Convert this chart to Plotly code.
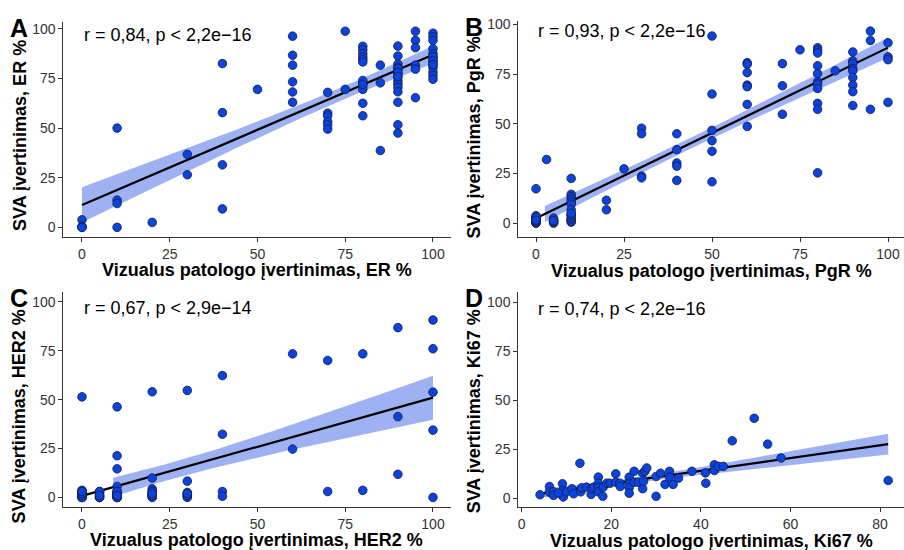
import numpy as np
import plotly.graph_objects as go

W, H = 904, 550

# ---------------- data ----------------
# Panel A: ER (columns at 80-100 contain overlapping cases)
er_x = ([0] * 4 + [10] * 4 + [20] + [30] * 2 + [40] * 4 + [50] + [60] * 6 + [70] * 6 + [75] * 2
        + [80] * 13 + [85] * 3 + [90] * 17 + [95] * 6 + [100] * 15)
er_y = [3.8, 0.5, 0, 0,
        13.7, 12, 0, 50,
        2.5,
        36.8, 26.5,
        82.5, 57.8, 31.5, 9.3,
        69.5,
        96.3, 86.7, 81.7, 73.3, 68.2, 63,
        68, 57.5, 56.2, 53.3, 51.7, 49.5,
        98.8, 69.5,
        91.2, 89.5, 87.5, 85.8, 84.5, 83.3, 72.8, 71.2, 69.5, 62.5, 56.2, 74, 72,
        81.7, 72.8, 38.7,
        91.3, 86.3, 82.2, 80.5, 79.2, 77.5, 75.8, 73.8, 72.2, 70.5, 68.3, 63, 51.7, 47.5, 80, 78, 76,
        98.8, 94.2, 90.5, 81.7, 79.7, 65.3,
        97.8, 96, 94.2, 90, 87.5, 85.5, 83.5, 82, 80.5, 78.3, 76.5, 74.6, 86, 84, 82]

# Panel B: PgR (several cases overlap near the origin)
pgr_x = ([0] * 15 + [3] + [5] * 6 + [10] * 15 + [20] * 2 + [25] + [30] * 4 + [40] * 5 + [50] * 6
         + [60] * 7 + [70] * 3 + [75] + [80] * 11 + [85] + [90] * 9 + [95] * 3 + [100] * 4)
pgr_y = [17.3, 3.7, 2.5, 1.2, 0, 0, 0.5, 1, 1.5, 2, 2, 2.5, 3, 1, 1.5,
         32,
         2.5, 1.2, 0, 0.5, 1, 1.3,
         22.5, 14.5, 13.3, 12, 10.7, 9.5, 6.7, 4.5, 1.5, 0.5, 1, 2, 3, 4, 5,
         11.5, 6.7,
         27.3,
         47.8, 45, 23.7, 22.8,
         45, 37, 30.3, 28.7, 21.5,
         94.2, 65, 46.7, 41.5, 36.2, 20.8,
         80.8, 80, 75.8, 69.5, 68.7, 59.8, 48.7,
         80.3, 69.2, 54.8,
         87.3,
         88.3, 87, 85.7, 79.2, 75.3, 71.2, 70, 67.8, 60.3, 57.3, 25.3,
         76.7,
         86.2, 81.7, 80.3, 77.8, 76.7, 73.3, 69.5, 66.2, 59.2,
         96.7, 92, 57.3,
         90.8, 83.7, 82.3, 60.8]

# Panel C: HER2 (many overlapping low-score cases)
her2_x = ([0] * 16 + [5] * 8 + [10] * 17 + [20] * 12 + [30] * 8 + [40] * 4 + [60] * 2 + [70] * 2
          + [80] * 2 + [90] * 3 + [100] * 5)
her2_y = [51.4, 3.6, 1.9, 0, 0, 0, 1, 1, 2, 2, 3, 3, 0, 1, 2, 3,
          3, 0, 0, 1, 2, 3, 0, 1,
          46.3, 21.3, 14.6, 5.6, 3, 1.4, 0, 0, 1, 2, 3, 0, 1, 2, 3, 0, 1,
          54, 9.9, 4.4, 3, 1.4, 0.3, 0, 1, 2, 3, 1, 2,
          54.7, 8.3, 2.5, 1.7, 0.6, 0, 1, 2,
          62.3, 32.3, 3, 0.6,
          73.4, 24.7,
          70, 3,
          73.4, 3.6,
          86.8, 41.3, 11.8,
          90.7, 76, 53.8, 34.4, 0]

# Panel D: Ki67
ki_x = [4.1, 6.2, 6.2, 7.1, 7.1, 9.1, 9.1, 9.1, 9.3, 8.2, 10, 11.2, 11.6, 13, 13.2, 13.4,
        14.5, 15.5, 15.6, 16.1, 17.1, 17.1, 17.1, 17.1, 18.1, 18.2, 19, 19.7, 21, 21, 21.9,
        22, 24, 24, 24, 24, 25.1, 25.1, 26, 27, 27, 27.5, 27.9, 27.2, 30, 30, 31, 32, 33, 33,
        33.8, 35, 38, 41, 41.1, 43, 43, 43.9, 45, 47, 51.9, 54.9, 57.9, 81.8]
ki_y = [1.7, 5.9, 3, 3.2, 1.4, 7.3, 3.9, 1.4, 0.6, 2.6, 3.2, 4.8, 2.2, 17.8, 3.2, 5.3,
        5.6, 1.9, 4.8, 5.6, 10.7, 7.6, 5.6, 3.2, 0.9, 5.6, 7.6, 7.6, 12.4, 8.1, 7.6,
        5.9, 10.7, 7.6, 5.3, 2.5, 13.7, 8.1, 8.1, 12.7, 4.8, 13.7, 15.4, 8.6, 0.9, 11, 12.7, 7, 13.7, 10.7,
        7, 10.2, 13.7, 12.9, 7.6, 17, 14.1, 16.2, 16.2, 29.3, 40.8, 27.6, 20.5, 9]

stat_labels = ["r = 0,84, p < 2,2e\u221216", "r = 0,93, p < 2,2e\u221216",
               "r = 0,67, p < 2,9e\u221214", "r = 0,74, p < 2,2e\u221216"]
panel_letters = ["A", "B", "C", "D"]
markers = ["ER", "PgR", "HER2", "Ki67"]

# ---------------- layout geometry (pixels) ----------------
# per panel: x (px of 0, px per unit, lo, hi), y (px of 0, px per unit, lo, hi),
# vertical centre of the y title, x position of the stat label
geom = [
    dict(x=(82, 3.51, -5.3, 105), y=(225, 2.0, -4.7, 103.3), xt=[0, 25, 50, 75, 100],
         ytc=132.5, lx=0, xtdy=33.5),
    dict(x=(536, 3.52, -5.0, 104.5), y=(220.7, 2.0, -7.2, 102), xt=[0, 25, 50, 75, 100],
         ytc=134, lx=0, xtdy=33.5),
    dict(x=(82, 3.51, -5.3, 105), y=(497, 1.97, -4.9, 105), xt=[0, 25, 50, 75, 100],
         ytc=415, lx=0, xtdy=33.5),
    dict(x=(521.7, 4.48, -0.76, 85.3), y=(497.7, 1.97, -4.6, 105.3), xt=[0, 20, 40, 60, 80],
         ytc=410, lx=3.2, xtdy=34.5),
]

POINT_FILL = "#0a44e0"
POINT_EDGE = "#1b1b3a"
BAND = "rgba(62,100,232,0.5)"
FONT = "Liberation Sans, Arial, sans-serif"


def fit_band(x, y, n_grid=80, t=1.99):
    x = np.asarray(x, float)
    y = np.asarray(y, float)
    n = len(x)
    b, a = np.polyfit(x, y, 1)
    resid = y - (a + b * x)
    s = np.sqrt(np.sum(resid ** 2) / (n - 2))
    xm = x.mean()
    sxx = np.sum((x - xm) ** 2)
    xs = np.linspace(x.min(), x.max(), n_grid)
    fit = a + b * xs
    se = s * np.sqrt(1 / n + (xs - xm) ** 2 / sxx)
    return xs, fit, fit - t * se, fit + t * se


fig = go.Figure()
datasets = [(er_x, er_y), (pgr_x, pgr_y), (her2_x, her2_y), (ki_x, ki_y)]
annotations = []
layout = {}

for i, ((xd, yd), g) in enumerate(zip(datasets, geom)):
    k = "" if i == 0 else str(i + 1)
    xa, ya = "x" + k, "y" + k
    x0, xp, xlo, xhi = g["x"]
    y0, yp, ylo, yhi = g["y"]
    left, right = x0 + xlo * xp, x0 + xhi * xp
    bottom, top = y0 - ylo * yp, y0 - yhi * yp

    common = dict(showgrid=False, zeroline=False, showline=True, linecolor="#333333",
                  linewidth=1.1, ticks="outside", ticklen=4, tickwidth=1.1,
                  tickcolor="#333333", tickfont=dict(family=FONT, size=14, color="#333333"))
    layout["xaxis" + k] = dict(domain=[left / W, right / W], range=[xlo, xhi],
                               anchor=ya, tickvals=g["xt"], **common)
    layout["yaxis" + k] = dict(domain=[1 - bottom / H, 1 - top / H], range=[ylo, yhi],
                               anchor=xa, tickvals=[0, 25, 50, 75, 100], **common)

    xs, fit, lo, hi = fit_band(xd, yd)
    # values outside the 0-100 scale limits are dropped from the ribbon
    keep = (lo >= 0) & (hi <= 100)
    bx, blo, bhi = xs[keep], lo[keep], hi[keep]
    fig.add_trace(go.Scatter(x=np.concatenate([bx, bx[::-1]]),
                             y=np.concatenate([bhi, blo[::-1]]),
                             fill="toself", fillcolor=BAND, line=dict(width=0),
                             mode="lines", hoverinfo="skip", showlegend=False,
                             xaxis=xa, yaxis=ya))
    fig.add_trace(go.Scatter(x=xs, y=fit, mode="lines", line=dict(color="black", width=2.2),
                             showlegend=False, xaxis=xa, yaxis=ya))
    fig.add_trace(go.Scatter(x=xd, y=yd, mode="markers",
                             marker=dict(size=8.6, color=POINT_FILL,
                                         line=dict(color=POINT_EDGE, width=0.8)),
                             showlegend=False, xaxis=xa, yaxis=ya))

    # correlation label
    annotations.append(dict(x=g["lx"], y=96.8, xref=xa, yref=ya, text=stat_labels[i],
                            showarrow=False, xanchor="left", yanchor="middle",
                            font=dict(family=FONT, size=18, color="black")))
    # axis titles
    cx = (left + right) / 2
    annotations.append(dict(x=cx / W, y=1 - (bottom + g["xtdy"]) / H, xref="paper", yref="paper",
                            text="<b>Vizualus patologo \u012fvertinimas, %s %%</b>" % markers[i],
                            showarrow=False, xanchor="center", yanchor="middle", borderpad=0,
                            font=dict(family=FONT, size=18, color="black")))
    annotations.append(dict(x=(left - 44) / W, y=1 - g["ytc"] / H, xref="paper", yref="paper",
                            text="<b>SVA \u012fvertinimas, %s %%</b>" % markers[i],
                            showarrow=False, textangle=-90, xanchor="center", yanchor="middle",
                            borderpad=0, font=dict(family=FONT, size=18, color="black")))
    # panel letter
    annotations.append(dict(x=(left - 44) / W, y=1 - (top + 6) / H, xref="paper", yref="paper",
                            text="<b>%s</b>" % panel_letters[i], showarrow=False,
                            xanchor="center", yanchor="middle",
                            font=dict(family=FONT, size=25, color="black")))

fig.update_layout(width=W, height=H, margin=dict(l=0, r=0, t=0, b=0),
                  paper_bgcolor="white", plot_bgcolor="white",
                  annotations=annotations, **layout)

fig.write_html("out.html")
